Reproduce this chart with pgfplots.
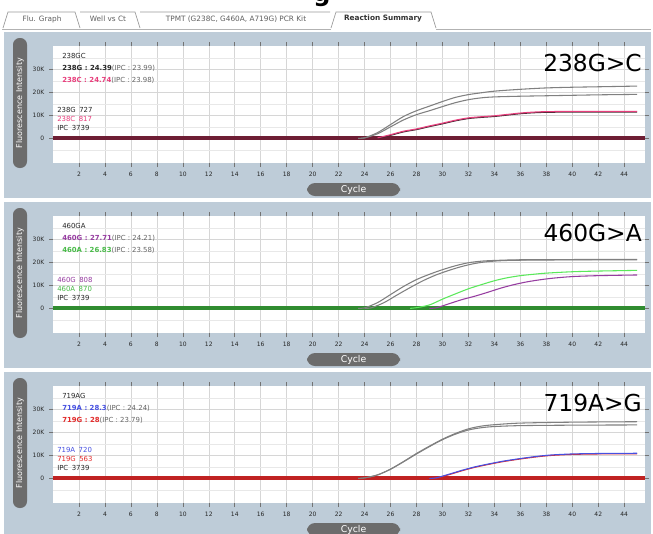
\documentclass[border=0pt]{standalone}
\usepackage{fontspec}
\setmainfont{DejaVu Sans}
\usepackage{pgfplots}
\pgfplotsset{compat=1.18}

\definecolor{panelbg}{RGB}{190,204,216}
\definecolor{pill}{RGB}{108,108,108}
\definecolor{tabtext}{RGB}{95,95,95}
\definecolor{ipc}{RGB}{128,128,128}
\definecolor{maroon}{RGB}{110,30,52}
\definecolor{pinkc}{RGB}{232,62,124}
\definecolor{darkc}{RGB}{70,40,50}
\definecolor{greenc}{RGB}{90,232,90}
\definecolor{greenbase}{RGB}{48,140,48}
\definecolor{purplec}{RGB}{150,60,160}
\definecolor{bluec}{RGB}{70,80,225}
\definecolor{redc}{RGB}{226,42,42}
\definecolor{redbase}{RGB}{192,34,34}

\pgfplotsset{
  rt/.style={
    scale only axis, width=444pt, height=87.75pt, anchor=south west,
    xmin=0, xmax=45.6, ymin=-10.7, ymax=40.1,
    axis line style={draw=none},
    axis background/.style={fill=white},
    xtick={2,4,...,44},
    ytick={0,10,20,30}, yticklabels={0,10K,20K,30K},
    minor ytick={-5,5,15,25,35},
    grid=both,
    major grid style={black!16, line width=0.4pt},
    minor grid style={black!9, line width=0.3pt},
    tick align=outside, major tick length=3pt, minor tick length=0pt,
    tick style={black!55, line width=0.4pt},
    tick label style={font=\fontsize{4.5}{5}\selectfont, text=black!85},
    /pgf/number format/assume math mode=true,
  },
  ipcline/.style={ipc, line width=0.8pt, smooth, tension=0.5},
  crv/.style={#1, line width=0.8pt, smooth, tension=0.5},
  base/.style={#1, line width=3pt},
}

\begin{document}
\begin{tikzpicture}
\useasboundingbox (0,0) rectangle (489.75pt,-399.75pt);
\clip (0,0) rectangle (489.75pt,-399.75pt);
\fill[white] (0,0) rectangle (489.75pt,-399.75pt);

\begin{scope}[x=0.75pt,y=-0.75pt]
  % cut-off caption above the screenshot
  \node[anchor=base, inner sep=0, font=\bfseries\fontsize{18}{20}\selectfont] at (322,1) {g};
  % tabs
  \draw[black!30, line width=0.5pt] (2,29) -- (331,29) (436,29) -- (651,29);
  \draw[black!40, line width=0.5pt] (3,28) -- (8,12) -- (75,12) -- (80,28)
    (80,12) -- (135,12) -- (140,28) (140,12) -- (330,12) (331,28) -- (336,12) -- (431,12) -- (436,28);
  \begin{scope}[every node/.style={inner sep=0, text=tabtext, font=\fontsize{5.5}{6}\selectfont}]
    \node at (42,19) {Flu. Graph};
    \node at (108,19) {Well vs Ct};
    \node at (236,19) {TPMT (G238C, G460A, A719G) PCR Kit};
    \node[text=black!80, font=\bfseries\fontsize{5.5}{6}\selectfont] at (383,19) {Reaction Summary};
  \end{scope}
  % panels
  \foreach \o in {0,170,340} {
    \fill[panelbg] (4,32+\o) rectangle (651,198+\o);
    \fill[pill, rounded corners=5pt] (13,38+\o) rectangle (27,168+\o);
    \node[rotate=90, inner sep=0, text=white, font=\fontsize{6}{7}\selectfont] at (20,103+\o) {Fluorescence Intensity};
    \fill[pill, rounded corners=6pt] (307,183+\o) rectangle (400,196+\o);
    \node[inner sep=0, text=white, font=\fontsize{7}{8}\selectfont] at (353.5,189.5+\o) {Cycle};
  }
  \coordinate (a1) at (53,163);
  \coordinate (a2) at (53,333);
  \coordinate (a3) at (53,503);
\end{scope}

% 238G>C
\begin{axis}[rt, at={(a1)}]
\addplot[base=maroon] coordinates {(0,0) (45.6,0)};
\addplot[ipcline] coordinates {(23.5,0) (24,0.2) (25,2.5) (26,6) (27,9.5) (28,12) (29,14) (30,16) (31,17.8) (32,19) (33,19.8) (34,20.5) (36,21.3) (38,21.9) (40,22.2) (42,22.4) (45,22.7)};
\addplot[ipcline] coordinates {(23.5,0) (24,0.2) (25,2) (26,5) (27,8) (28,10.3) (29,12) (30,13.8) (31,15.5) (32,16.8) (33,17.6) (34,18) (36,18.3) (38,18.5) (40,18.7) (42,18.9) (45,19.1)};
\addplot[crv=darkc] coordinates {(25,0) (26,1.3) (27,2.8) (28,3.8) (29,5.1) (30,6.3) (31,7.6) (32,8.6) (33,9.1) (34,9.5) (35,10.1) (36,10.7) (37,11.1) (38,11.3) (40,11.4) (45,11.4)};
\addplot[crv=pinkc] coordinates {(25,0.2) (26,1.6) (27,3.1) (28,4.1) (29,5.4) (30,6.6) (31,7.9) (32,8.9) (33,9.4) (34,9.8) (35,10.4) (36,11) (37,11.4) (38,11.6) (40,11.7) (45,11.7)};
\end{axis}

% 460G>A
\begin{axis}[rt, at={(a2)}]
\addplot[base=greenbase] coordinates {(0,0) (45.6,0)};
\addplot[ipcline] coordinates {(23.5,0) (24,0.2) (25,2.5) (26,6) (27,9.5) (28,12.5) (29,14.8) (30,16.8) (31,18.5) (32,19.8) (33,20.5) (34,20.8) (36,21.1) (40,21.2) (45,21.3)};
\addplot[ipcline] coordinates {(24,0) (24.5,0.2) (25.5,2.5) (26.5,5.8) (27.5,9) (28.5,12) (29.5,14.5) (30.5,16.5) (31.5,18.2) (32.5,19.5) (33.5,20.3) (35,20.8) (38,21) (45,21.1)};
\addplot[crv=greenc] coordinates {(27.5,0) (28,0.3) (29,1.5) (30,4) (31,6.3) (32,8.5) (33,10.3) (34,12) (35,13.3) (36,14.2) (37,14.8) (38,15.3) (40,15.9) (42,16.2) (45,16.5)};
\addplot[crv=purplec] coordinates {(29,0) (29.5,0.2) (30.5,2) (31.5,3.8) (32.5,5.3) (33.5,7) (34.5,8.8) (35.5,10.3) (36.5,11.5) (37.5,12.4) (38.5,13.1) (40,13.8) (42,14.2) (45,14.5)};
\end{axis}

% 719A>G
\begin{axis}[rt, at={(a3)}]
\addplot[base=redbase] coordinates {(0,0) (45.6,0)};
\addplot[ipcline] coordinates {(23.5,0) (24,0.2) (25,1.5) (26,4) (27,7.3) (28,10.8) (29,14) (30,17) (31,19.5) (32,21.5) (33,22.7) (34,23.3) (36,24) (40,24.4) (45,24.6)};
\addplot[ipcline] coordinates {(23.5,0) (24,0.2) (25,1.5) (26,4) (27,7.2) (28,10.6) (29,13.8) (30,16.8) (31,19.2) (32,21) (33,22) (34,22.5) (36,22.9) (40,23.1) (45,23.2)};
\addplot[crv=redc] coordinates {(29,0) (29.5,0.1) (30.5,1.6) (31.5,3.3) (32.5,4.8) (33.5,6) (34.5,7.1) (35.5,8) (36.5,8.8) (37.5,9.5) (38.5,10) (40,10.4) (42,10.6) (45,10.7)};
\addplot[crv=bluec] coordinates {(29,0) (29.5,0.2) (30.5,1.8) (31.5,3.5) (32.5,5) (33.5,6.2) (34.5,7.3) (35.5,8.2) (36.5,9) (37.5,9.7) (38.5,10.2) (40,10.6) (42,10.8) (45,10.9)};
\end{axis}

% legends and titles
\begin{scope}[x=0.75pt,y=-0.75pt, every node/.style={anchor=base west, inner sep=0, text=black!85, font=\fontsize{5.2}{6}\selectfont}]
  \node[anchor=base east, text=black, font=\fontsize{17.5}{19}\selectfont] at (642,71) {238G>C};
  \node at (62,58) {238GC};
  \node at (62,70) {\textbf{238G : 24.39}\textcolor{black!60}{(IPC : 23.99)}};
  \node[text=pinkc] at (62,82) {\textbf{238C : 24.74}\textcolor{black!60}{(IPC : 23.98)}};
  \node at (57,112) {238G\enspace 727};
  \node[text=pinkc] at (57,121) {238C\enspace 817};
  \node at (57,130) {IPC\enspace 3739};

  \node[anchor=base east, text=black, font=\fontsize{17.5}{19}\selectfont] at (642,241) {460G>A};
  \node at (62,228) {460GA};
  \node[text=purplec] at (62,240) {\textbf{460G : 27.71}\textcolor{black!60}{(IPC : 24.21)}};
  \node[text=greenc!80!black] at (62,252) {\textbf{460A : 26.83}\textcolor{black!60}{(IPC : 23.58)}};
  \node[text=purplec] at (57,282) {460G\enspace 808};
  \node[text=greenc!80!black] at (57,291) {460A\enspace 870};
  \node at (57,300) {IPC\enspace 3739};

  \node[anchor=base east, text=black, font=\fontsize{17.5}{19}\selectfont] at (642,411) {719A>G};
  \node at (62,398) {719AG};
  \node[text=bluec] at (62,410) {\textbf{719A : 28.3}\textcolor{black!60}{(IPC : 24.24)}};
  \node[text=redc] at (62,422) {\textbf{719G : 28}\textcolor{black!60}{(IPC : 23.79)}};
  \node[text=bluec] at (57,452) {719A\enspace 720};
  \node[text=redc] at (57,461) {719G\enspace 563};
  \node at (57,470) {IPC\enspace 3739};
\end{scope}
\end{tikzpicture}
\end{document}
